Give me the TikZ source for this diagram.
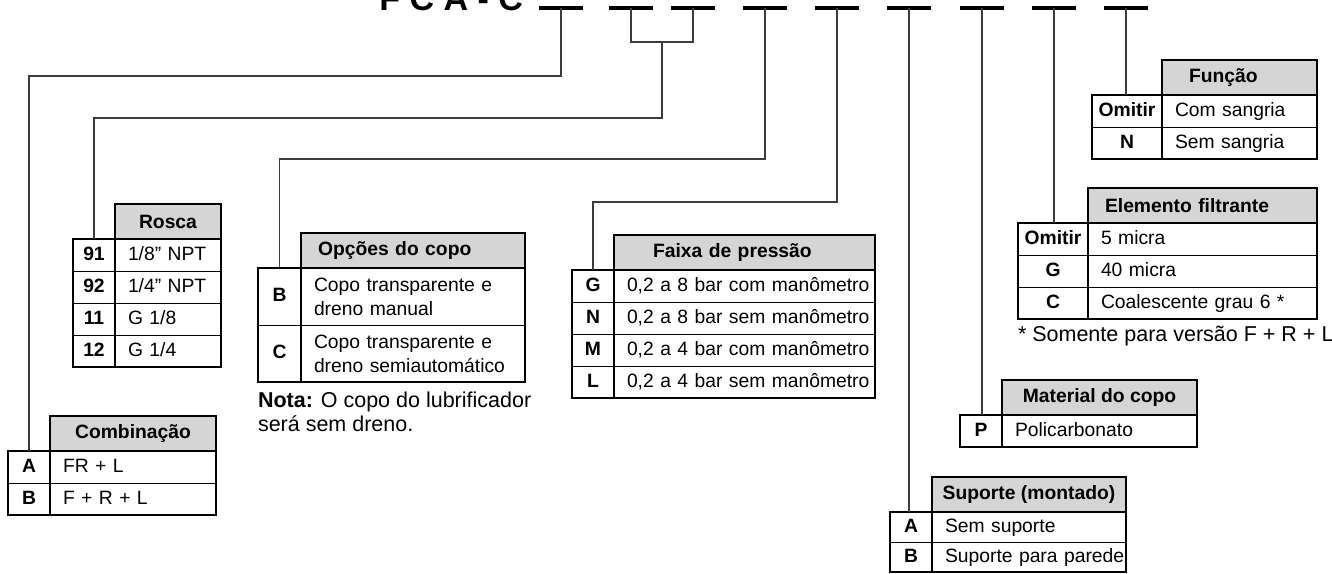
\documentclass[tikz,border=0pt]{standalone}
\usepackage{fontspec}
\setmainfont{Liberation Sans}
\usepackage{tikz}
\usetikzlibrary{positioning,calc}
\definecolor{hdrgray}{HTML}{D5D5D5}
\definecolor{wire}{HTML}{3C3C3C}
\newcommand{\tabfont}{\fontsize{19.3}{24}\selectfont}
\newcommand{\notefont}{\fontsize{21.5}{24}\selectfont}

\begin{document}
\begin{tikzpicture}[x=1pt,y=-1pt,
  every node/.style={font=\tabfont,inner sep=0pt,outer sep=0pt},
  head/.style={draw,line width=2.6pt,fill=hdrgray,minimum width=#1pt,minimum height=35pt,anchor=north west,font=\tabfont\bfseries},
  code/.style={draw,line width=1pt,minimum width=42pt,minimum height=32pt,font=\tabfont\bfseries,text height=14pt,text depth=4pt},
  desc/.style={draw,line width=1pt,text width=#1pt,inner xsep=0pt,minimum height=32pt,align=left,text height=14pt,text depth=4pt,execute at begin node={\leftskip=13pt}},
  tall/.style={minimum height=57pt,text depth={}},
  frame/.style={line width=2.6pt},
  slot/.style={fill=black,minimum width=44pt,minimum height=3.5pt},
  link/.style={wire,line width=1.3pt}]
\useasboundingbox (0,0) rectangle (1332,573);

% code title, cut at the top edge
\node[anchor=base east,font=\fontsize{34}{40}\selectfont\bfseries] (ttl) at (523,10) {F C A - C};
\node[slot] (s1) at (561,8) {};
\node[slot] (s2) at (631,8) {};
\node[slot] (s3) at (693,8) {};
\node[slot] (s4) at (765,8) {};
\node[slot] (s5) at (837,8) {};
\node[slot] (s6) at (909,8) {};
\node[slot] (s7) at (982,8) {};
\node[slot] (s8) at (1054,8) {};
\node[slot] (s9) at (1126,8) {};

% Combinacao
\node[head=166] (cbH) at (50,416) {Combinação};
\node[code,anchor=north east] (cbA) at (cbH.south west) {A};
\node[desc=166,right=0pt of cbA] (cbAt) {FR + L};
\node[code,below=0pt of cbA] (cbB) {B};
\node[desc=166,right=0pt of cbB] (cbBt) {F + R + L};
\draw[frame] (cbA.north west) rectangle (cbBt.south east);
\draw[frame] (cbA.north east) -- (cbB.south east);

% Rosca
\node[head=106] (rsH) at (115,204) {Rosca};
\node[code,anchor=north east] (rs91) at (rsH.south west) {91};
\node[desc=106,right=0pt of rs91] (rs91t) {1/8” NPT};
\node[code,below=0pt of rs91] (rs92) {92};
\node[desc=106,right=0pt of rs92] (rs92t) {1/4” NPT};
\node[code,below=0pt of rs92] (rs11) {11};
\node[desc=106,right=0pt of rs11] (rs11t) {G 1/8};
\node[code,below=0pt of rs11] (rs12) {12};
\node[desc=106,right=0pt of rs12] (rs12t) {G 1/4};
\draw[frame] (rs91.north west) rectangle (rs12t.south east);
\draw[frame] (rs91.north east) -- (rs12.south east);

% Opcoes do copo
\node[head=224,text width=190pt,inner xsep=17pt,align=left] (opH) at (301,233) {Opções do copo};
\node[code,anchor=north east,minimum width=43pt,minimum height=57pt] (opB) at (opH.south west) {B};
\node[desc=224,tall,right=0pt of opB] (opBt) {Copo transparente e\\dreno manual};
\node[code,minimum width=43pt,minimum height=57pt,below=0pt of opB] (opC) {C};
\node[desc=224,tall,right=0pt of opC] (opCt) {Copo transparente e\\dreno semiautomático};
\draw[frame] (opB.north west) rectangle (opCt.south east);
\draw[frame] (opB.north east) -- (opC.south east);
\node[anchor=north west,align=left,font=\notefont] (opNote) at (258,392) {\textbf{Nota:} O copo do lubrificador\\será sem dreno.};

% Faixa de pressao
\node[head=261,text width=183pt,inner xsep=39pt,align=left] (fxH) at (614,235) {Faixa de pressão};
\node[code,anchor=north east] (fxG) at (fxH.south west) {G};
\node[desc=261,right=0pt of fxG] (fxGt) {0,2 a 8 bar com manômetro};
\node[code,below=0pt of fxG] (fxN) {N};
\node[desc=261,right=0pt of fxN] (fxNt) {0,2 a 8 bar sem manômetro};
\node[code,below=0pt of fxN] (fxM) {M};
\node[desc=261,right=0pt of fxM] (fxMt) {0,2 a 4 bar com manômetro};
\node[code,below=0pt of fxM] (fxL) {L};
\node[desc=261,right=0pt of fxL] (fxLt) {0,2 a 4 bar sem manômetro};
\draw[frame] (fxG.north west) rectangle (fxLt.south east);
\draw[frame] (fxG.north east) -- (fxL.south east);

% Funcao
\node[head=155,text width=101pt,inner xsep=27pt,align=left] (fnH) at (1162,60) {Função};
\node[code,anchor=north east,minimum width=70pt] (fnO) at (fnH.south west) {Omitir};
\node[desc=155,right=0pt of fnO] (fnOt) {Com sangria};
\node[code,minimum width=70pt,below=0pt of fnO] (fnN) {N};
\node[desc=155,right=0pt of fnN] (fnNt) {Sem sangria};
\draw[frame] (fnO.north west) rectangle (fnNt.south east);
\draw[frame] (fnO.north east) -- (fnN.south east);

% Elemento filtrante
\node[head=229,text width=195pt,inner xsep=17pt,align=left] (efH) at (1088,188) {Elemento filtrante};
\node[code,anchor=north east,minimum width=70pt] (efO) at (efH.south west) {Omitir};
\node[desc=229,right=0pt of efO] (efOt) {5 micra};
\node[code,minimum width=70pt,below=0pt of efO] (efG) {G};
\node[desc=229,right=0pt of efG] (efGt) {40 micra};
\node[code,minimum width=70pt,below=0pt of efG] (efC) {C};
\node[desc=229,right=0pt of efC] (efCt) {Coalescente grau 6 *};
\draw[frame] (efO.north west) rectangle (efCt.south east);
\draw[frame] (efO.north east) -- (efC.south east);
\node[anchor=base west,font=\notefont] (efNote) at (1018,341) {* Somente para versão F + R + L};

% Material do copo
\node[head=195] (mcH) at (1002,380) {Material do copo};
\node[code,anchor=north east] (mcP) at (mcH.south west) {P};
\node[desc=195,right=0pt of mcP] (mcPt) {Policarbonato};
\draw[frame] (mcP.north west) rectangle (mcPt.south east);
\draw[frame] (mcP.north east) -- (mcP.south east);

% Suporte
\node[head=194] (spH) at (932,477) {Suporte (montado)};
\node[code,anchor=north east,minimum height=30pt] (spA) at (spH.south west) {A};
\node[desc=194,minimum height=30pt,right=0pt of spA] (spAt) {Sem suporte};
\node[code,minimum height=30pt,below=0pt of spA] (spB) {B};
\node[desc=194,minimum height=30pt,right=0pt of spB] (spBt) {Suporte para parede};
\draw[frame] (spA.north west) rectangle (spBt.south east);
\draw[frame] (spA.north east) -- (spB.south east);

% leader lines
\draw[link] (s1.center) -- ++(0,68) -| (cbA.north);
\draw[link] (s2.center) -- ++(0,34) -| (s3.center);
\coordinate (rsJ) at ($(s2.center)!0.5!(s3.center)+(0,34)$);
\draw[link] (rsJ) -- ++(0,76) -| (rs91.north);
\draw[link] (s4.center) -- ++(0,151) -| (opB.north);
\draw[link] (s5.center) -- ++(0,194) -| (fxG.north);
\draw[link] (s6.center) -- (s6.center |- spA.north);
\draw[link] (s7.center) -- (s7.center |- mcP.north);
\draw[link] (s8.center) -- (s8.center |- efO.north);
\draw[link] (s9.center) -- (s9.center |- fnO.north);
\end{tikzpicture}
\end{document}
